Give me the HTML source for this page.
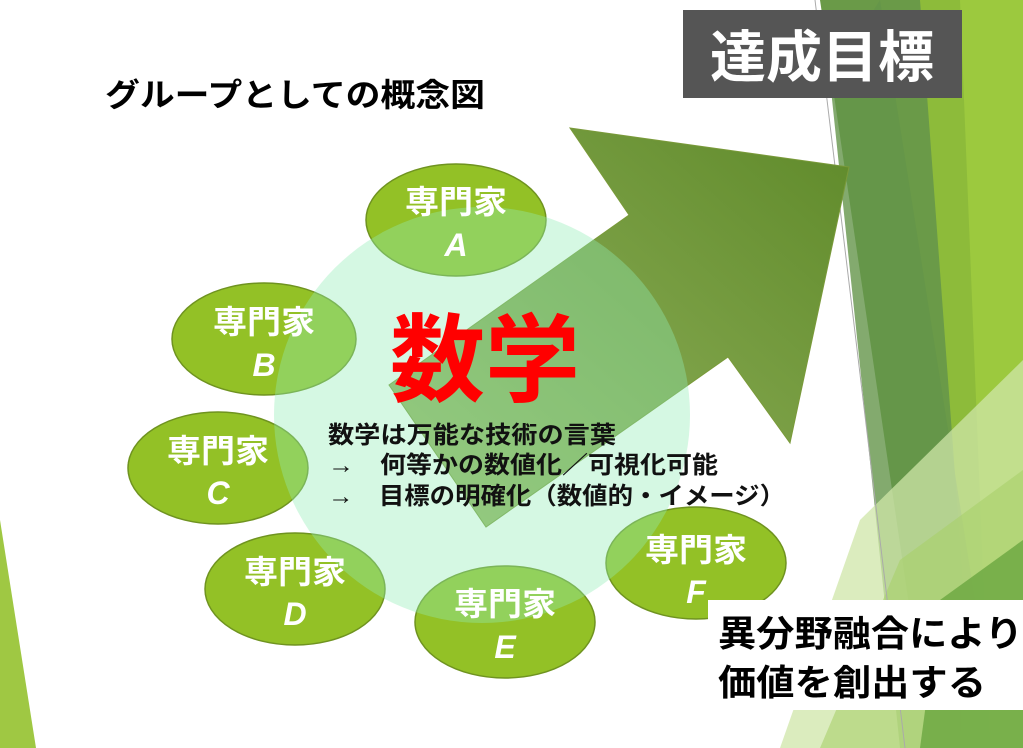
<!DOCTYPE html>
<html><head><meta charset="utf-8"><style>
html,body{margin:0;padding:0;background:#fff;width:1023px;height:748px;overflow:hidden}
svg{display:block}
text{font-family:"Liberation Sans","Noto Sans CJK JP",sans-serif;font-weight:bold}
</style></head><body>
<svg width="1023" height="748" viewBox="0 0 1023 748">
<defs>
<linearGradient id="ag" x1="0" y1="1" x2="1" y2="0">
<stop offset="0" stop-color="#9ab864"/><stop offset="1" stop-color="#5f8a2a"/>
</linearGradient>
</defs>
<polygon points="835,0 1023,0 1023,748 960,748" fill="#8dbb3a"/>
<polygon points="960,0 1023,0 1023,748 990,748" fill="#9cc93e"/>
<polygon points="820,0 920,0 965,610 960,748 930,748" fill="#6a9a48"/>
<polygon points="830,80 880,0 975,600 950,748 900,748" fill="#64954a" opacity="0.8"/>
<polygon points="860,520 1023,360 1023,748 780,748" fill="#cfe5a8" opacity="0.75"/>
<polygon points="900,560 1023,470 1023,748 820,748" fill="#a9d06a" opacity="0.6"/>
<polygon points="940,600 1023,540 1023,748 920,748" fill="#6aa640" opacity="0.8"/>
<line x1="815" y1="0" x2="905" y2="748" stroke="#aaa" stroke-width="1"/>
<polygon points="0,520 0,748 36,748" fill="#9fc843"/>
<polygon points="570,128 849,167 790,443 728,357 486,527 389,385 629,215" fill="url(#ag)" stroke="#7a9a3a" stroke-width="1"/>
<g fill="#93c126" stroke="#6f9320" stroke-width="1.5">
<ellipse cx="456" cy="220" rx="90" ry="56"/>
<ellipse cx="264" cy="339" rx="92" ry="56"/>
<ellipse cx="218" cy="468" rx="90" ry="56"/>
<ellipse cx="295" cy="589" rx="90" ry="56"/>
<ellipse cx="505" cy="622" rx="90" ry="56"/>
<ellipse cx="696" cy="563" rx="90" ry="56"/>
</g>
<circle cx="482" cy="415" r="208" fill="#90ecb5" opacity="0.38"/>
<g fill="#fff" font-size="32" text-anchor="middle">
<text x="456" y="213" textLength="102" lengthAdjust="spacingAndGlyphs">専門家</text><text x="456" y="256" font-style="italic">A</text>
<text x="264" y="333" textLength="102" lengthAdjust="spacingAndGlyphs">専門家</text><text x="264" y="376" font-style="italic">B</text>
<text x="218" y="462" textLength="102" lengthAdjust="spacingAndGlyphs">専門家</text><text x="218" y="504" font-style="italic">C</text>
<text x="295" y="583" textLength="102" lengthAdjust="spacingAndGlyphs">専門家</text><text x="295" y="625" font-style="italic">D</text>
<text x="505" y="615" textLength="102" lengthAdjust="spacingAndGlyphs">専門家</text><text x="505" y="658" font-style="italic">E</text>
<text x="696" y="561" textLength="102" lengthAdjust="spacingAndGlyphs">専門家</text><text x="696" y="603" font-style="italic">F</text>
</g>
<text x="390" y="394" font-size="96" fill="#f00" textLength="190" lengthAdjust="spacingAndGlyphs">数学</text>
<g font-size="24" fill="#111">
<text x="328" y="443" textLength="288" lengthAdjust="spacingAndGlyphs">数学は万能な技術の言葉</text>
<text x="328" y="473" textLength="390" lengthAdjust="spacingAndGlyphs">→　何等かの数値化／可視化可能</text>
<text x="328" y="504" textLength="457" lengthAdjust="spacingAndGlyphs">→　目標の明確化（数値的・イメージ）</text>
</g>
<text x="105" y="106" font-size="32" fill="#000" textLength="380" lengthAdjust="spacingAndGlyphs">グループとしての概念図</text>
<rect x="683" y="10" width="279" height="88" fill="#555"/>
<text x="822" y="77" font-size="56" fill="#fff" text-anchor="middle">達成目標</text>
<rect x="708" y="600" width="315" height="110" fill="#fff"/>
<g font-size="36" fill="#000">
<text x="718" y="646" textLength="305" lengthAdjust="spacingAndGlyphs">異分野融合により</text>
<text x="718" y="695" textLength="268" lengthAdjust="spacingAndGlyphs">価値を創出する</text>
</g>
</svg>
</body></html>
